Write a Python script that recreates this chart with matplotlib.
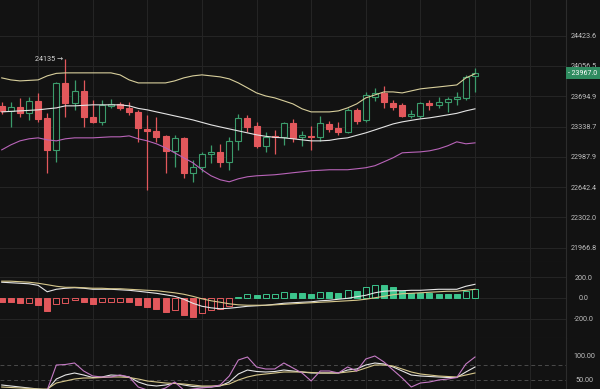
import numpy as np
import matplotlib.pyplot as plt
from matplotlib.ticker import NullLocator

plt.rcParams['font.family'] = ['Roboto', 'DejaVu Sans']

# candles (price)
opens = [23581, 23522, 23569, 23499, 23640, 23440, 23068, 23853, 23616, 23758,
         23452, 23393, 23581, 23604, 23557, 23510, 23311, 23288, 23230, 23057,
         23207, 22806, 22874, 23022, 23045, 22931, 23172, 23440, 23346, 23115,
         23230, 23219, 23381, 23219, 23230, 23219, 23369, 23323, 23276, 23534,
         23416, 23687, 23734, 23616, 23593, 23463, 23463, 23616, 23593, 23628,
         23663, 23675, 23937]
closes = [23522, 23569, 23499, 23640, 23428, 23068, 23853, 23616, 23758, 23452,
          23393, 23593, 23604, 23557, 23510, 23323, 23288, 23219, 23057, 23207,
          22806, 22874, 23022, 23045, 22931, 23172, 23440, 23334, 23115, 23219,
          23219, 23381, 23207, 23242, 23219, 23381, 23311, 23276, 23534, 23405,
          23710, 23734, 23628, 23569, 23463, 23487, 23616, 23593, 23628, 23663,
          23687, 23925, 23967]
highs = [23628, 23628, 23675, 23687, 23734, 23499, 23860, 24135, 23889, 23889,
         23651, 23651, 23663, 23628, 23628, 23534, 23475, 23452, 23242, 23242,
         23219, 22954, 23045, 23126, 23138, 23219, 23487, 23475, 23393, 23276,
         23299, 23393, 23428, 23288, 23346, 23463, 23405, 23393, 23557, 23557,
         23746, 23794, 23817, 23651, 23616, 23534, 23628, 23651, 23687, 23687,
         23746, 23949, 24033]
lows = [23487, 23334, 23452, 23416, 23393, 22806, 22931, 23452, 23534, 23334,
        23381, 23358, 23557, 23534, 23475, 23161, 22612, 23161, 22806, 22874,
        22749, 22703, 22817, 22920, 22874, 22840, 23068, 23276, 23092, 23045,
        23022, 23126, 23161, 23115, 23068, 23172, 23276, 23242, 23265, 23369,
        23393, 23640, 23557, 23534, 23452, 23440, 23440, 23534, 23557, 23510,
        23593, 23651, 23746]

# bollinger bands
upper = [23913, 23889, 23877, 23883, 23889, 23937, 23967, 23973, 23973, 23973,
         23973, 23973, 23973, 23949, 23889, 23853, 23853, 23853, 23853, 23877,
         23913, 23937, 23949, 23937, 23925, 23901, 23853, 23794, 23734, 23698,
         23675, 23640, 23604, 23546, 23510, 23510, 23510, 23522, 23557, 23604,
         23675, 23710, 23746, 23746, 23734, 23758, 23782, 23794, 23805, 23817,
         23829, 23913, 23961]
middle = [23510, 23516, 23522, 23528, 23534, 23546, 23557, 23581, 23581, 23587,
          23593, 23593, 23593, 23593, 23581, 23551, 23534, 23510, 23487, 23463,
          23440, 23416, 23387, 23358, 23334, 23311, 23288, 23265, 23242, 23225,
          23213, 23207, 23196, 23184, 23172, 23172, 23178, 23196, 23207, 23236,
          23265, 23299, 23334, 23369, 23393, 23411, 23428, 23440, 23457, 23475,
          23493, 23522, 23546]
lower = [23068, 23126, 23172, 23196, 23207, 23184, 23172, 23196, 23207, 23207,
         23207, 23213, 23219, 23219, 23230, 23196, 23172, 23138, 23092, 23034,
         22977, 22920, 22840, 22771, 22726, 22703, 22737, 22760, 22771, 22777,
         22783, 22794, 22806, 22817, 22829, 22834, 22840, 22840, 22840, 22851,
         22863, 22886, 22931, 22977, 23034, 23040, 23045, 23057, 23080, 23115,
         23161, 23138, 23149]

# macd
hist = [-42, -44, -52, -46, -74, -129, -58, -50, -20, -42,
        -58, -45, -42, -40, -42, -74, -90, -106, -138, -116,
        -170, -190, -148, -122, -106, -80, 8, 33, 23, 33,
        34, 60, 48, 46, 40, 60, 58, 48, 78, 70,
        105, 125, 120, 105, 70, 48, 46, 44, 40, 38,
        36, 70, 88]
dif = [150, 145, 140, 135, 120, 58, 82, 92, 97, 92,
       82, 82, 82, 77, 72, 63, 53, 43, 29, 14,
       -14, -53, -82, -97, -106, -101, -92, -82, -77, -72,
       -63, -53, -48, -43, -39, -29, -24, -14, -5, 10,
       24, 48, 63, 68, 68, 72, 72, 77, 82, 82,
       82, 111, 130]
dea = [160, 160, 155, 150, 140, 126, 111, 101, 101, 97,
       92, 92, 87, 87, 82, 77, 72, 68, 58, 48,
       34, 14, -10, -29, -43, -58, -68, -72, -72, -72,
       -68, -63, -58, -53, -48, -43, -39, -34, -29, -24,
       -14, 0, 14, 29, 39, 43, 48, 53, 58, 63,
       63, 72, 82]

# kdj
k_line = [40, 38, 36, 34, 32, 30, 52, 60, 64, 60,
          55, 56, 60, 59, 56, 46, 40, 38, 40, 44,
          40, 37, 36, 36, 38, 46, 62, 70, 67, 66,
          67, 70, 68, 66, 64, 64, 64, 64, 70, 72,
          80, 84, 82, 76, 68, 60, 58, 57, 56, 55,
          55, 66, 76]
d_line = [36, 35, 34, 33, 32, 32, 44, 48, 52, 54,
          54, 55, 56, 56, 55, 52, 48, 46, 44, 43,
          42, 40, 38, 38, 39, 42, 50, 56, 60, 62,
          64, 66, 66, 66, 65, 64, 64, 64, 66, 68,
          74, 80, 80, 78, 72, 66, 62, 60, 58, 57,
          56, 60, 64]
j_line = [28, 26, 24, 24, 22, 30, 80, 81, 84, 68,
          58, 56, 56, 60, 56, 36, 30, 28, 34, 46,
          30, 32, 34, 36, 40, 58, 90, 96, 76, 72,
          72, 84, 74, 64, 48, 68, 68, 64, 76, 68,
          92, 98, 86, 70, 54, 36, 44, 46, 50, 52,
          55, 82, 96]

price_ticks = [24423.6, 24056.5, 23694.9, 23338.7, 22987.9, 22642.4, 22302.0, 21966.8]
macd_ticks = [200, 0, -200]
kdj_ticks = [100, 50]
last_price = 23967.0
peak_price = 24135
peak_idx = 7

bg = '#121212'
grid_c = '#242424'
txt_c = '#c0c0c0'
up_c = '#3b9c6c'
dn_c = '#e2585c'
macd_up = '#3cc48c'

n = len(opens)
idx = np.arange(n)
grid_idx = np.arange(4, 62, 6)

fig = plt.figure(figsize=(6, 3.89), dpi=100, facecolor=bg)
W = 566 / 600
ax1 = fig.add_axes([0, 1 - 262 / 389, W, 262 / 389])
ax2 = fig.add_axes([0, 1 - 338 / 389, W, 76 / 389], sharex=ax1)
ax3 = fig.add_axes([0, 0, W, 51 / 389], sharex=ax1)

for ax in (ax1, ax2, ax3):
    ax.set_facecolor(bg)
    for s in ax.spines.values():
        s.set_color('#2c2c2c')
        s.set_linewidth(0.8)
    ax.spines['left'].set_visible(False)
    ax.spines['top'].set_visible(False)
    ax.yaxis.tick_right()
    ax.tick_params(axis='y', length=0, colors=txt_c, labelsize=5.2, pad=13)
    ax.tick_params(axis='x', length=0, labelbottom=False)
    ax.set_axisbelow(True)

ax1.set_xticks(grid_idx)
ax1.set_xlim(-0.19, 62.0)
for ax in (ax1, ax2, ax3):
    ax.grid(True, axis='x', color=grid_c, lw=0.8)

# main panel
ax1.set_yscale('log')
ax1.set_ylim(21811, 24862)
ax1.set_yticks(price_ticks, ['%.1f' % v for v in price_ticks], ha='center')
ax1.yaxis.set_minor_locator(NullLocator())
ax1.grid(True, axis='y', which='major', color=grid_c, lw=0.8)

o = np.array(opens)
c = np.array(closes)
up = c >= o
col = np.where(up, up_c, dn_c)
ax1.vlines(idx, lows, highs, colors=col, lw=0.9, zorder=2)
ax1.bar(idx, np.abs(c - o), bottom=np.minimum(o, c), width=0.66,
        color=np.where(up, bg, dn_c), edgecolor=col, linewidth=0.8, zorder=3)

ax1.plot(idx, upper, color='#d8cf9c', lw=0.8, zorder=4)
ax1.plot(idx, middle, color='#e4e4e4', lw=0.8, zorder=4)
ax1.plot(idx, lower, color='#b964b9', lw=0.8, zorder=4)

ax1.text(peak_idx - 0.3, peak_price, '%d \u2192' % peak_price, ha='right', va='center',
         color='#d8d8d8', fontsize=5.2)
ax1.text(583 / 566, last_price, '- %.1f' % last_price, transform=ax1.get_yaxis_transform(),
         ha='center', va='center', color='white', fontsize=5.0,
         bbox=dict(boxstyle='square,pad=0.35', fc='#2f8c60', ec='none'))

# macd panel
ax2.set_ylim(-388, 345)
ax2.set_yticks(macd_ticks, ['%.1f' % v for v in macd_ticks], ha='center')
ax2.grid(True, axis='y', color=grid_c, lw=0.8)
h = np.array(hist)
rising = np.r_[False, h[1:] >= h[:-1]]
hcol = np.where(h >= 0, macd_up, dn_c)
ax2.bar(idx, h, width=0.66, color=np.where(rising, bg, hcol), edgecolor=hcol,
        linewidth=0.7, zorder=3)
ax2.plot(idx, dif, color='#e6e6e6', lw=0.8, zorder=4)
ax2.plot(idx, dea, color='#d6c78c', lw=0.8, zorder=4)

# kdj panel
ax3.set_ylim(32, 134)
ax3.set_yticks(kdj_ticks, ['%.2f' % v for v in kdj_ticks], ha='center')
for lv in (80, 50, 20):
    ax3.axhline(lv, color='#4a4a4a', lw=0.7, dashes=(4, 3), zorder=1)
ax3.plot(idx, k_line, color='#e6e6e6', lw=0.8)
ax3.plot(idx, d_line, color='#d6c78c', lw=0.8)
ax3.plot(idx, j_line, color='#c47ac4', lw=0.8)

fig.savefig('out.png', dpi=100, facecolor=bg)
